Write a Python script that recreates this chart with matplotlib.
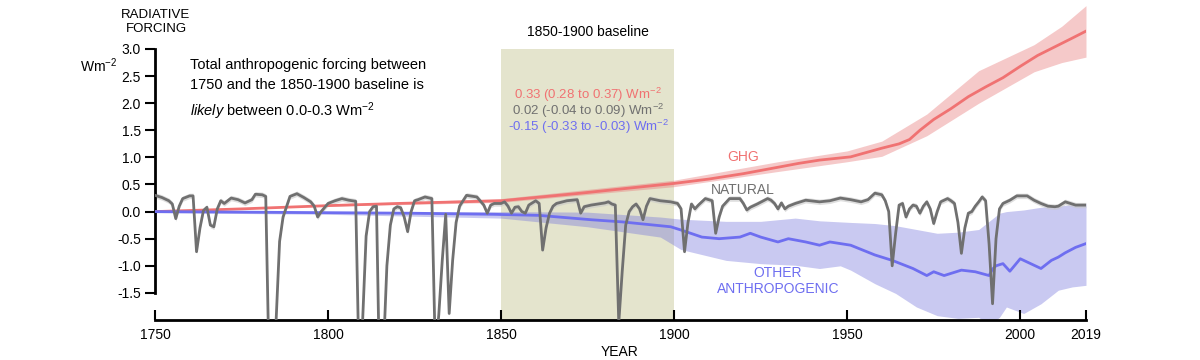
import matplotlib
matplotlib.use('Agg')
import matplotlib.pyplot as plt
import numpy as np

plt.rcParams['font.family'] = ['Liberation Sans', 'DejaVu Sans']
plt.rcParams['mathtext.fontset'] = 'custom'
plt.rcParams['mathtext.rm'] = 'Liberation Sans'
plt.rcParams['mathtext.it'] = 'Liberation Sans:italic'
plt.rcParams['axes.unicode_minus'] = False

# GHG forcing (Wm-2)
ghg_years = [1750, 1775, 1800, 1820, 1850, 1873, 1900, 1910, 1920, 1931, 1936, 1942, 1951,
             1960, 1965, 1968, 1971, 1975, 1980, 1985, 1990, 1995, 2000, 2005, 2010, 2015, 2019]
ghg_vals = [0.0, 0.05, 0.11, 0.15, 0.20, 0.34, 0.52, 0.60, 0.70, 0.83, 0.89, 0.95, 1.01,
            1.17, 1.25, 1.33, 1.50, 1.70, 1.90, 2.12, 2.30, 2.47, 2.68, 2.88, 3.04, 3.20, 3.33]
ghg_band_years = [1750, 1800, 1850, 1900, 1930, 1950, 1960, 1973, 1988, 2004, 2012, 2019]
ghg_lo = [0.0, 0.10, 0.17, 0.46, 0.74, 0.92, 1.02, 1.40, 2.00, 2.58, 2.75, 2.85]
ghg_hi = [0.0, 0.13, 0.24, 0.58, 0.92, 1.12, 1.30, 1.80, 2.60, 3.08, 3.42, 3.80]

# natural forcing (solar + volcanic)
nat_years = [1750, 1752, 1754, 1755, 1756, 1757, 1758, 1760, 1761, 1762, 1763, 1764, 1765,
             1766, 1767, 1768, 1769, 1770, 1772, 1774, 1776, 1778, 1779, 1781, 1782, 1783,
             1784, 1785, 1786, 1787, 1789, 1791, 1793, 1795, 1796, 1797, 1798, 1800, 1802,
             1804, 1806, 1808, 1809, 1810, 1811, 1812, 1813, 1814, 1815, 1816, 1817, 1818,
             1819, 1820, 1821, 1822, 1823, 1824, 1825, 1826, 1828, 1830, 1831, 1832, 1833,
             1834, 1835, 1836, 1837, 1838, 1840, 1843, 1845, 1846, 1847, 1848, 1850, 1851,
             1852, 1853, 1854, 1855, 1856, 1857, 1858, 1860, 1861, 1862, 1863, 1864, 1865,
             1866, 1869, 1872, 1873, 1874, 1876, 1878, 1880, 1881, 1882, 1883, 1884, 1885,
             1886, 1887, 1888, 1889, 1890, 1891, 1892, 1893, 1896, 1899, 1901, 1902, 1903,
             1904, 1905, 1906, 1907, 1909, 1911, 1912, 1913, 1914, 1916, 1919, 1920, 1921,
             1922, 1924, 1927, 1928, 1929, 1930, 1931, 1932, 1933, 1935, 1938, 1942, 1945,
             1948, 1951, 1954, 1956, 1958, 1960, 1961, 1962, 1963, 1964, 1965, 1966, 1967,
             1968, 1969, 1970, 1971, 1972, 1973, 1974, 1975, 1976, 1977, 1979, 1980, 1981,
             1982, 1983, 1984, 1985, 1986, 1987, 1988, 1989, 1990, 1991, 1992, 1993, 1994,
             1995, 1996, 1997, 1999, 2002, 2004, 2006, 2008, 2010, 2011, 2013, 2014, 2016,
             2019]
nat_vals = [0.30, 0.26, 0.20, 0.14, -0.13, 0.10, 0.24, 0.29, 0.29, -0.74, -0.30, 0.02, 0.08,
            -0.25, -0.28, 0.05, 0.20, 0.15, 0.25, 0.22, 0.16, 0.22, 0.32, 0.31, 0.28, -3.0,
            -3.0, -2.0, -0.55, -0.10, 0.28, 0.33, 0.26, 0.18, 0.10, -0.10, 0.00, 0.15, 0.20,
            0.24, 0.21, 0.19, -3.0, -2.0, -0.45, 0.00, 0.09, 0.10, -3.5, -2.6, -1.0, -0.25,
            0.05, 0.09, 0.07, -0.10, -0.37, 0.00, 0.20, 0.22, 0.27, 0.24, -2.6, -1.9, -0.9,
            -0.05, -1.88, -0.90, -0.20, 0.10, 0.30, 0.27, 0.12, -0.03, 0.12, 0.15, 0.15, 0.18,
            0.10, -0.03, 0.08, 0.09, 0.00, -0.03, 0.12, 0.20, 0.15, -0.71, -0.30, -0.03, 0.10,
            0.15, 0.20, 0.22, -0.03, 0.09, 0.12, 0.14, 0.16, 0.18, 0.14, 0.12, -2.05, -1.10,
            -0.25, 0.00, 0.09, 0.14, 0.05, -0.15, 0.10, 0.24, 0.20, 0.18, 0.15, 0.05, -0.74,
            -0.20, 0.14, 0.05, 0.12, 0.24, 0.20, -0.40, -0.10, 0.10, 0.24, 0.24, 0.15, 0.03,
            0.08, 0.14, 0.24, 0.21, 0.15, 0.05, 0.16, 0.05, 0.10, 0.15, 0.21, 0.18, 0.20,
            0.25, 0.22, 0.18, 0.22, 0.34, 0.31, 0.20, 0.00, -1.00, -0.40, 0.12, 0.15, -0.10,
            0.05, 0.12, 0.10, -0.03, 0.10, 0.18, 0.05, -0.22, 0.00, 0.18, 0.24, 0.20, 0.15,
            -0.20, -0.77, -0.30, -0.03, 0.00, 0.10, 0.18, 0.27, 0.20, -0.60, -1.70, -0.50, 0.05,
            0.15, 0.18, 0.21, 0.29, 0.29, 0.21, 0.15, 0.10, 0.09, 0.10, 0.18, 0.16, 0.12,
            0.12]
nat_unc = 0.05

# other anthropogenic forcing (aerosols, land use, ...)
ant_years = [1750, 1800, 1824, 1848, 1861, 1876, 1885, 1899, 1902, 1908, 1913, 1919, 1922,
             1925, 1930, 1933, 1938, 1942, 1945, 1948, 1951, 1958, 1963, 1969, 1973, 1975,
             1978, 1983, 1987, 1991, 1992, 1993, 1995, 1997, 2000, 2003, 2006, 2009, 2011,
             2013, 2016, 2019]
ant_vals = [0.0, -0.02, -0.03, -0.05, -0.07, -0.15, -0.19, -0.28, -0.34, -0.47, -0.50, -0.47,
            -0.40, -0.47, -0.56, -0.50, -0.56, -0.62, -0.56, -0.59, -0.62, -0.80, -0.90, -1.05,
            -1.18, -1.11, -1.18, -1.08, -1.11, -1.18, -1.06, -1.00, -0.96, -1.10, -0.87, -0.96,
            -1.05, -0.90, -0.84, -0.76, -0.66, -0.59]
ant_band_years = [1750, 1800, 1850, 1875, 1896, 1902, 1915, 1925, 1935, 1942, 1948, 1951,
                  1958, 1964, 1970, 1976, 1982, 1988, 1991, 1994, 1996, 2001, 2006, 2011,
                  2015, 2019]
ant_lo = [-0.02, -0.05, -0.12, -0.28, -0.47, -0.70, -0.90, -0.96, -0.99, -1.05, -1.00, -1.08,
          -1.33, -1.51, -1.76, -1.92, -1.97, -1.95, -2.10, -1.95, -1.76, -1.88, -1.70, -1.45,
          -1.39, -1.36]
ant_hi = [0.01, 0.0, 0.0, -0.01, -0.10, -0.14, -0.18, -0.18, -0.12, -0.17, -0.19, -0.20,
          -0.22, -0.26, -0.33, -0.40, -0.38, -0.33, -0.18, -0.03, 0.0, 0.03, 0.08, 0.10,
          0.13, 0.15]

x_ticks = [1750, 1800, 1850, 1900, 1950, 2000, 2019]
y_ticks = [-1.5, -1.0, -0.5, 0.0, 0.5, 1.0, 1.5, 2.0, 2.5, 3.0]

red = '#f07272'
grey = '#707070'
blue = '#6e6ef0'

fig = plt.figure(figsize=(12, 3.6), dpi=100)
ax = fig.add_axes([155/1200, 40/360, 931/1200, 320/360])

# baseline period box
ax.fill_between([1850, 1900], -2, 3.0, color='#e4e4cd', lw=0, zorder=0)

ax.fill_between(ghg_band_years, ghg_lo, ghg_hi, color='#e87878', alpha=0.4, lw=0, zorder=1)
ax.fill_between(ant_band_years, ant_lo, ant_hi, color='#7878dc', alpha=0.4, lw=0, zorder=1)
nat = np.array(nat_vals)
ax.fill_between(nat_years, nat - nat_unc, nat + nat_unc, color='#c8c8c8', alpha=0.6, lw=0, zorder=2)

ax.plot(ghg_years, ghg_vals, color=red, lw=2, zorder=3)
ax.plot(ant_years, ant_vals, color=blue, lw=2, zorder=3)
ax.plot(nat_years, nat_vals, color=grey, lw=2, zorder=4)

ax.set_xlim(1750, 2019)
ax.set_ylim(-2, 3.904)

for s in ['top', 'right']:
    ax.spines[s].set_visible(False)
ax.spines['left'].set_bounds(-1.5, 3.0)
ax.spines['bottom'].set_bounds(1750, 2019)
ax.spines['left'].set_linewidth(2)
ax.spines['bottom'].set_linewidth(2)

ax.set_xticks(x_ticks)
ax.set_xticklabels([str(t) for t in x_ticks])
ax.set_yticks(y_ticks)
ax.set_yticklabels(['%.1f' % t for t in y_ticks])
ax.tick_params(axis='x', direction='in', length=7, width=1.5, pad=6, labelsize=10)
ax.tick_params(axis='y', direction='out', length=7, width=1.5, pad=3, labelsize=10)

# labels
fig.text(156/1200, 1 - 22/360, 'RADIATIVE\nFORCING', ha='center', va='center',
         fontsize=9.5, linespacing=1.25)
fig.text(99/1200, 1 - 66/360, 'Wm$^{-2}$', ha='center', va='center', fontsize=10)
fig.text(620/1200, 1 - 352/360, 'YEAR', ha='center', va='center', fontsize=10)
fig.text(190/1200, 1 - 58/360,
         'Total anthropogenic forcing between\n'
         '1750 and the 1850-1900 baseline is\n'
         r'$\it{likely}$ between 0.0-0.3 Wm$^{-2}$',
         ha='left', va='top', fontsize=10.5, linespacing=1.55)

fig.text(588/1200, 1 - 32/360, '1850-1900 baseline', ha='center', va='center', fontsize=10)
fig.text(588/1200, 1 - 95/360, '0.33 (0.28 to 0.37) Wm$^{-2}$', ha='center', va='center',
         fontsize=9.5, color=red)
fig.text(588/1200, 1 - 111/360, '0.02 (-0.04 to 0.09) Wm$^{-2}$', ha='center', va='center',
         fontsize=9.5, color=grey)
fig.text(588/1200, 1 - 127/360, '-0.15 (-0.33 to -0.03) Wm$^{-2}$', ha='center', va='center',
         fontsize=9.5, color=blue)

fig.text(743/1200, 1 - 157/360, 'GHG', ha='center', va='center', fontsize=10, color=red)
fig.text(743/1200, 1 - 190/360, 'NATURAL', ha='center', va='center', fontsize=10, color=grey)
fig.text(778/1200, 1 - 281/360, 'OTHER\nANTHROPOGENIC', ha='center', va='center',
         fontsize=10, color=blue, linespacing=1.2)

fig.savefig('out.png', dpi=100)
